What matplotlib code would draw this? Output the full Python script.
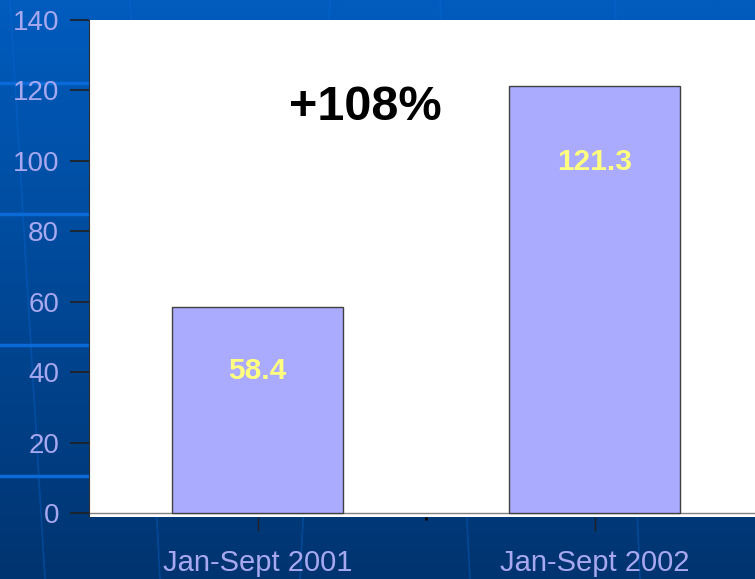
import matplotlib.pyplot as plt
import numpy as np

# Dados do gráfico
periodos = ['Jan-Sept 2001', 'Jan-Sept 2002']
valores = [58.4, 121.3]
rotulos_valores = ['58.4', '121.3']
deslocamento_rotulos = [-46, -55]  # pontos abaixo do topo da barra
texto_variacao = '+108%'
ticks_y = [0, 20, 40, 60, 80, 100, 120, 140]

plt.rcParams['font.family'] = ['Liberation Sans', 'DejaVu Sans']

W, H = 755, 579
fig = plt.figure(figsize=(W / 100, H / 100), dpi=100)

# Fundo azul em degradê (estilo modelo de apresentação)
fundo = fig.add_axes([0, 0, 1, 1], zorder=-1)
topo = np.array([0, 92, 190]) / 255
base = np.array([0, 52, 112]) / 255
t = np.linspace(0, 1, 256)[:, None]
grad = (topo * (1 - t) + base * t)[:, None, :] * np.ones((1, 2, 1))
fundo.imshow(grad, aspect='auto', extent=[0, W, H, 0])
cor_linha = '#0a6ad8'
for yl in [83, 214, 345, 476]:
    fundo.plot([0, W], [yl, yl], color=cor_linha, lw=2.5)
for x0, x1 in [(45, 10), (160, 130), (300, 330), (470, 440), (640, 615)]:
    fundo.plot([x0, x1], [H, 0], color=cor_linha, lw=1.2, alpha=0.35)
fundo.set_xlim(0, W)
fundo.set_ylim(H, 0)
fundo.axis('off')

# Área do gráfico
ax = fig.add_axes([89 / W, 1 - 517.2 / H, (763 - 89) / W, (517.2 - 20) / H])
ax.set_facecolor('white')

x = np.arange(len(periodos))
ax.bar(x, valores, width=0.506, color='#aaaaff', edgecolor='#404040',
       linewidth=1, zorder=2)

for xi, v, rot, d in zip(x, valores, rotulos_valores, deslocamento_rotulos):
    ax.annotate(rot, (xi, v), xytext=(0, d), textcoords='offset points',
                ha='center', va='center', fontsize=21.5, fontweight='bold',
                color='#ffff80', zorder=3)

ax.text(0.321, 115.2, texto_variacao, ha='center', va='center',
        fontsize=35, fontweight='bold', color='black')

ax.axhline(0, color='#808080', lw=1, zorder=1)

ax.set_xlim(-0.5, 1.5)
ax.set_ylim(-1.2, 140)
ax.set_yticks(ticks_y)
ax.set_xticks(x)
ax.set_xticklabels(periodos)
ax.set_xticks([0.5], minor=True)

for lado in ['top', 'right', 'bottom']:
    ax.spines[lado].set_visible(False)
ax.spines['left'].set_color('#303030')

ax.tick_params(axis='y', direction='out', length=13.5, width=1.2,
               color='#202020', labelsize=20, labelcolor='#a8a8f0', pad=8)
ax.tick_params(axis='x', which='major', direction='out', length=10,
               width=1, color='#202020', labelsize=21, labelcolor='#a8a8f0',
               pad=13)
ax.tick_params(axis='x', which='minor', direction='out', length=2,
               width=2, color='black')

fig.savefig('out.png', dpi=100)
